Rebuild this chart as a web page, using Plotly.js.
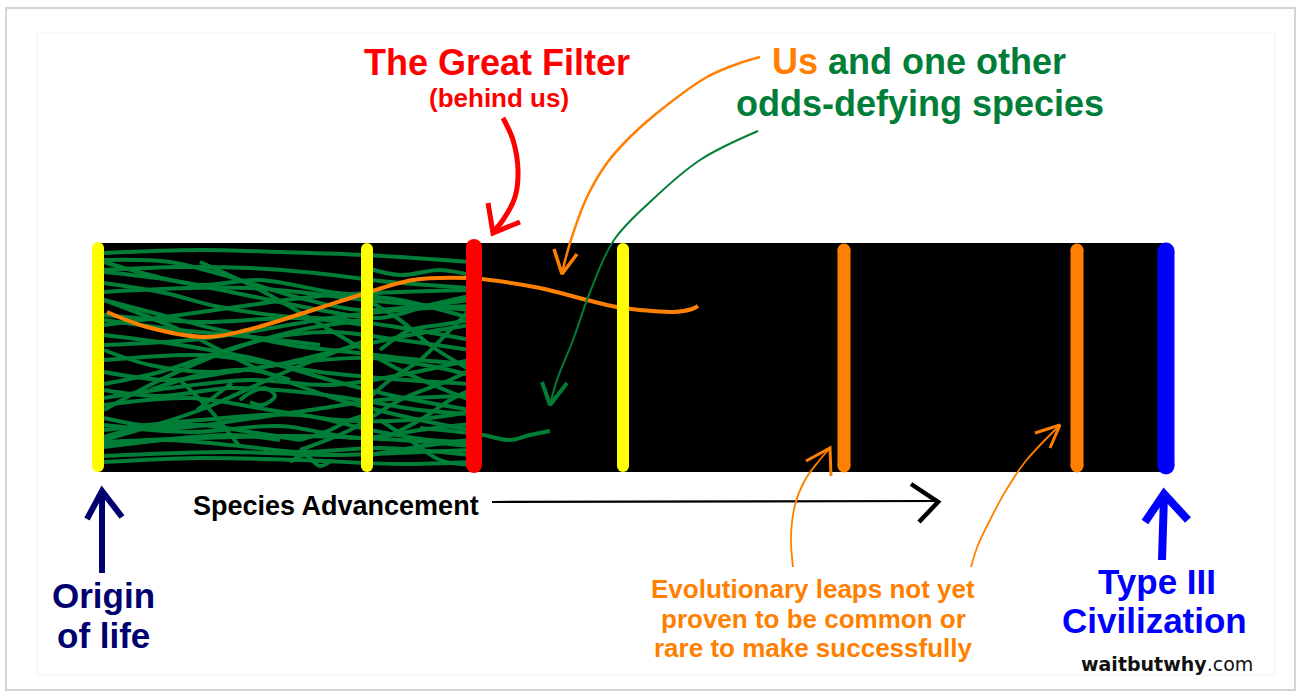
<!DOCTYPE html>
<html>
<head>
<meta charset="utf-8">
<script src="https://cdn.plot.ly/plotly-3.0.1.min.js"></script>
<style>html,body{margin:0;padding:0;background:#fff;}#chart{width:1301px;height:694px;}</style>
</head>
<body>
<div id="chart"></div>
<script>
// ---------------- DATA (canvas units) ----------------
// Black "advancement" band
const bandX = [98, 1166];
const bandY = [243, 472];

// Milestones along species advancement
const stageNames = ["Origin of life", "Filter 1", "The Great Filter", "Filter 3", "Leap A", "Leap B", "Type III Civilization"];
const stageX = [98, 367, 474, 623, 844, 1077, 1166];
const stageTop = [248, 249, 247, 249, 250, 250, 251];
const stageBottom = [466, 466, 465, 466, 466, 466, 466];

// "Us" path (orange)
const usX = [107, 147, 207, 247, 313, 360, 413, 467, 490, 540, 587, 617, 640, 673, 692, 698];
const usY = [312, 327, 337, 330, 310, 295, 280, 278, 280, 288, 300, 307, 310, 312, 309, 306];

// Failed species paths (green)
const greenX = [
  [104, 200, 280, 365, 470],
  [104, 180, 250, 315, 380, 470],
  [104, 165, 215, 280, 345, 415, 470],
  [104, 170, 250, 320, 380, 430, 470],
  [104, 180, 250, 320, 400, 470],
  [104, 190, 260, 330, 400, 470],
  [104, 150, 220, 290, 350, 420, 470],
  [104, 200, 260, 320, 380, 470],
  [104, 170, 230, 300, 370, 430, 470],
  [104, 160, 230, 300, 360, 420, 470],
  [104, 190, 270, 340, 410, 470],
  [104, 170, 240, 310, 380, 470],
  [104, 200, 300, 370, 430, 470],
  [104, 160, 240, 300, 380, 470],
  [104, 200, 300, 400, 470],
  [104, 230, 330, 420, 470],
  [104, 180, 260, 330, 390, 470],
  [104, 160, 220, 270, 330, 400, 470],
  [104, 170, 240, 300, 360, 420, 470],
  [150, 200, 250, 290],
  [197, 215, 232],
  [180, 210, 240],
  [240, 250, 265, 275, 262, 250],
  [104, 170, 250, 330, 400, 470],
  [104, 150, 210, 270, 340, 410, 470],
  [367, 400, 430, 470],
  [367, 390, 420, 450, 470],
  [367, 400, 440, 470],
  [104, 200, 300, 370],
  [380, 420, 450, 470],
  [104, 140, 200, 250, 300],
  [300, 330, 350, 367],
  [104, 250, 367, 470],
  [380, 410, 440, 470],
  [104, 180, 260, 320],
  [104, 230, 280],
  [290, 305, 320, 332],
  [420, 460, 483, 510, 530, 550],
  [104, 200, 300, 400, 470],
  [370, 400, 430, 470],
  [104, 150, 200, 260, 330, 400, 470],
  [104, 190, 280, 360, 420, 470],
  [104, 180, 260, 340, 420, 470],
  [104, 200, 290, 367],
  [200, 260, 330, 400, 470],
  [104, 160, 230, 300, 367],
  [380, 410, 440, 470],
  [300, 350, 400, 450, 470]
];
const greenY = [
  [253, 250, 252, 255, 262],
  [270, 267, 268, 273, 281, 288],
  [283, 293, 306, 316, 320, 330, 340],
  [272, 280, 296, 310, 318, 305, 296],
  [325, 315, 305, 296, 292, 290],
  [345, 340, 330, 318, 310, 306],
  [300, 312, 330, 345, 352, 360, 364],
  [360, 355, 362, 372, 378, 384],
  [372, 380, 372, 362, 358, 366, 375],
  [390, 396, 388, 392, 400, 410, 414],
  [405, 398, 410, 420, 420, 412],
  [418, 428, 420, 410, 400, 396],
  [430, 420, 415, 430, 440, 442],
  [445, 440, 446, 452, 448, 455],
  [462, 458, 460, 464, 462],
  [456, 452, 455, 452, 450],
  [335, 345, 360, 380, 395, 410],
  [384, 372, 352, 338, 332, 340, 350],
  [260, 262, 280, 298, 310, 306, 300],
  [390, 375, 370, 380],
  [410, 396, 383],
  [380, 410, 447],
  [400, 393, 388, 396, 405, 402],
  [398, 388, 380, 385, 375, 360],
  [350, 365, 372, 366, 350, 335, 325],
  [300, 320, 345, 370],
  [400, 380, 360, 330, 310],
  [268, 275, 270, 275],
  [315, 322, 318, 326],
  [440, 420, 400, 390],
  [437, 428, 425, 432, 440],
  [440, 430, 420, 415],
  [292, 288, 300, 310],
  [350, 330, 325, 320],
  [320, 330, 338, 345],
  [447, 435, 440],
  [462, 455, 466, 460],
  [428, 432, 435, 440, 435, 431],
  [442, 438, 436, 440, 446],
  [455, 450, 445, 440],
  [262, 275, 285, 280, 292, 300, 318],
  [425, 432, 426, 438, 430, 424],
  [300, 330, 370, 400, 420, 430],
  [440, 410, 370, 340],
  [262, 290, 330, 370, 400],
  [410, 380, 350, 330, 320],
  [420, 440, 460, 465],
  [450, 430, 400, 380, 370]
];

// Hand-drawn arrows: shafts and heads
const filterArrowX = [503, 513, 518, 515, 503, 493];
const filterArrowY = [118, 140, 170, 197, 220, 232];
const filterHeadX = [488, 493, 520];
const filterHeadY = [203, 233, 222];

const usArrowX = [760, 740, 707, 657, 630, 607, 587, 570, 562];
const usArrowY = [57, 63, 77, 113, 137, 163, 197, 243, 273];
const usHeadX = [554, 562, 577];
const usHeadY = [249, 274, 254];

const otherArrowX = [758, 700, 650, 614, 590, 573, 557, 550];
const otherArrowY = [131, 160, 202, 240, 292, 340, 380, 405];
const otherHeadX = [542, 550, 567];
const otherHeadY = [382, 405, 383];

const advArrowX = [492, 938];
const advArrowY = [502, 501];
const advHeadX = [911, 938, 919];
const advHeadY = [484, 502, 522];

const leapAArrowX = [793, 791, 795, 805, 818, 830];
const leapAArrowY = [567, 537, 505, 480, 462, 448];
const leapAHeadX = [806, 830, 831];
const leapAHeadY = [461, 448, 476];

const leapBArrowX = [971, 978, 990, 1005, 1025, 1060];
const leapBArrowY = [567, 545, 520, 492, 462, 425];
const leapBHeadX = [1035, 1060, 1050];
const leapBHeadY = [433, 425, 448];

const originArrowX = [102, 102];
const originArrowY = [573, 492];
const originHeadX = [87, 102, 122];
const originHeadY = [519, 491, 517];

const typeArrowX = [1162, 1164];
const typeArrowY = [560, 495];
const typeHeadX = [1145, 1164, 1188];
const typeHeadY = [522, 494, 520];

// Text labels
const titleText = "The Great Filter";
const subtitleText = "(behind us)";
const usLine1 = "<span style='color:#ff8000'>Us</span> and one other";
const usLine2 = "odds-defying species";
const axisText = "Species Advancement";
const originLines = ["Origin", "of life"];
const typeLines = ["Type III", "Civilization"];
const leapLines = ["Evolutionary leaps not yet", "proven to be common or", "rare to make successfully"];
const creditText = "<b>waitbutwhy</b>.com";

// ---------------- STYLE ----------------
const C = {
  green: "#007d37", orange: "#ff8000", yellow: "#ffff00", red: "#ff0000",
  blue: "#0000ff", navy: "#00006e", black: "#000000"
};
const stageColors = [C.yellow, C.yellow, C.red, C.yellow, C.orange, C.orange, C.blue];
const stageWidths = [12, 12, 16, 12, 13, 13, 17];
const FONT = "Liberation Sans, Arial, Helvetica, sans-serif";

// ---------------- TRACES ----------------
const traces = [];
traces.push({
  x: [bandX[0], bandX[1], bandX[1], bandX[0]],
  y: [bandY[0], bandY[0], bandY[1], bandY[1]],
  mode: "lines", fill: "toself", fillcolor: C.black, line: {width: 0, color: C.black},
  hoverinfo: "skip"
});
for (let i = 0; i < greenX.length; i++) {
  traces.push({x: greenX[i], y: greenY[i], mode: "lines",
    line: {color: C.green, width: 4, shape: "spline", smoothing: 1}, hoverinfo: "skip"});
}
traces.push({x: usX, y: usY, mode: "lines",
  line: {color: C.orange, width: 4, shape: "spline", smoothing: 1}, hoverinfo: "skip"});

for (let i = 0; i < stageX.length; i++) {
  traces.push({
    x: [stageX[i], stageX[i]], y: [stageTop[i], stageBottom[i]],
    mode: "lines+markers", name: stageNames[i],
    line: {color: stageColors[i], width: stageWidths[i]},
    marker: {color: stageColors[i], size: stageWidths[i], line: {width: 0}},
    hoverinfo: "skip"
  });
}

function arrow(sx, sy, hx, hy, color, w, hw) {
  traces.push({x: sx, y: sy, mode: "lines",
    line: {color: color, width: w, shape: "spline", smoothing: 1}, hoverinfo: "skip"});
  traces.push({x: hx, y: hy, mode: "lines",
    line: {color: color, width: hw}, hoverinfo: "skip"});
}
arrow(filterArrowX, filterArrowY, filterHeadX, filterHeadY, C.red, 5, 5);
arrow(usArrowX, usArrowY, usHeadX, usHeadY, C.orange, 2.5, 3.5);
arrow(otherArrowX, otherArrowY, otherHeadX, otherHeadY, C.green, 2, 4);
arrow(advArrowX, advArrowY, advHeadX, advHeadY, C.black, 2.2, 4.5);
arrow(leapAArrowX, leapAArrowY, leapAHeadX, leapAHeadY, C.orange, 1.8, 3);
arrow(leapBArrowX, leapBArrowY, leapBHeadX, leapBHeadY, C.orange, 1.8, 3);
arrow(originArrowX, originArrowY, originHeadX, originHeadY, C.navy, 6, 6);
arrow(typeArrowX, typeArrowY, typeHeadX, typeHeadY, C.blue, 8, 8);

// ---------------- ANNOTATIONS ----------------
function label(text, x, y, size, color, extra) {
  return Object.assign({
    text: text, x: x, y: y, xref: "x", yref: "y", showarrow: false,
    xanchor: "center", yanchor: "middle",
    font: {family: FONT, size: size, color: color, weight: 700}
  }, extra || {});
}
const annotations = [
  label(titleText, 497, 62, 36, C.red),
  label(subtitleText, 499, 98, 26, C.red),
  label(usLine1, 919, 61, 36, C.green),
  label(usLine2, 920, 103, 36, C.green),
  label(axisText, 336, 506, 27, C.black),
  label(originLines[0], 103, 595, 35, C.navy),
  label(originLines[1], 103, 635, 35, C.navy),
  label(typeLines[0], 1157, 581, 35, C.blue),
  label(typeLines[1], 1154, 620, 35, C.blue),
  label(leapLines[0], 813, 589, 26, C.orange),
  label(leapLines[1], 813, 619, 26, C.orange),
  label(leapLines[2], 813, 648, 26, C.orange),
  {text: creditText, x: 1167, y: 664, xref: "x", yref: "y", showarrow: false,
   xanchor: "center", yanchor: "middle",
   font: {family: "DejaVu Sans, sans-serif", size: 19, color: "#111"}}
];

const layout = {
  width: 1301, height: 694,
  margin: {l: 0, r: 0, t: 0, b: 0, pad: 0},
  paper_bgcolor: "#ffffff", plot_bgcolor: "#ffffff",
  showlegend: false,
  xaxis: {range: [0, 1301], visible: false, fixedrange: true},
  yaxis: {range: [694, 0], visible: false, fixedrange: true},
  shapes: [
    {type: "rect", xref: "x", yref: "y", x0: 6, y0: 8, x1: 1295, y1: 690,
     line: {color: "#d4d4d4", width: 2}, layer: "below"},
    {type: "rect", xref: "x", yref: "y", x0: 37, y0: 33, x1: 1275, y1: 675,
     line: {color: "#f0f0f0", width: 1}, layer: "below"}
  ],
  annotations: annotations
};

Plotly.newPlot("chart", traces, layout, {displayModeBar: false, staticPlot: true});
</script>
</body>
</html>
